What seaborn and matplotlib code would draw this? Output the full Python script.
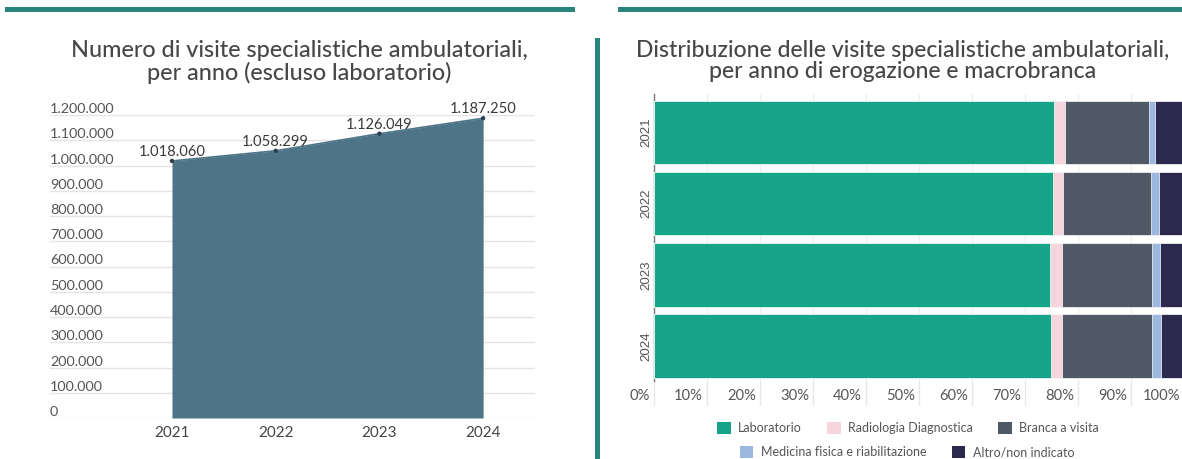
import matplotlib
matplotlib.use("Agg")
import matplotlib.pyplot as plt
from matplotlib.patches import Patch, Rectangle
from matplotlib.ticker import FixedLocator
from matplotlib.transforms import ScaledTranslation
import numpy as np
import pandas as pd
import seaborn as sns

# --- data -------------------------------------------------------------
anni = ["2021", "2022", "2023", "2024"]
visite = [1018060, 1058299, 1126049, 1187250]
y_ticks = [0, 100000, 200000, 300000, 400000, 500000, 600000,
           700000, 800000, 900000, 1000000, 1100000, 1200000]

macrobranche = ["Laboratorio", "Radiologia Diagnostica", "Branca a visita",
                "Medicina fisica e riabilitazione", "Altro/non indicato"]
laboratorio = [75.5, 75.2, 74.7, 74.9]
radiologia = [2.1, 2.0, 2.2, 2.0]
branca_visita = [15.8, 16.5, 17.0, 17.1]
medicina_fisica = [1.1, 1.6, 1.6, 1.6]
altro = [5.5, 4.7, 4.5, 4.4]
x_ticks_pct = [0, 10, 20, 30, 40, 50, 60, 70, 80, 90, 100]

colori = ["#17a589", "#f7d5dd", "#4f5a66", "#9cb8df", "#2b2a4d"]
area_col = "#4e7488"
teal = "#2a847c"

sns.set_theme(style="white")
plt.rcParams["font.family"] = ["Lato", "DejaVu Sans"]

W, H = 1182, 459
fig = plt.figure(figsize=(W / 100, H / 100), dpi=100)
fig.patch.set_facecolor("white")


def box(l, t, r, b):
    return [l / W, 1 - b / H, (r - l) / W, (b - t) / H]


def it(n):
    return f"{n:,.0f}".replace(",", ".")


# --- decorative frame lines --------------------------------------------
fig.add_artist(Rectangle((5 / W, 1 - 12 / H), 570 / W, 5 / H,
                         transform=fig.transFigure, color=teal, lw=0))
fig.add_artist(Rectangle((618 / W, 1 - 12 / H), 570 / W, 5 / H,
                         transform=fig.transFigure, color=teal, lw=0))
fig.add_artist(Rectangle((595 / W, 0), 5 / W, 1 - 38 / H,
                         transform=fig.transFigure, color=teal, lw=0))

# --- left: area chart ---------------------------------------------------
ax1 = fig.add_axes(box(50, 115, 535, 418))
xpos = np.arange(len(anni))
ax1.fill_between(xpos, 0, visite, color=area_col, lw=0, zorder=2)
sns.lineplot(x=xpos, y=visite, ax=ax1, color=area_col, lw=1.2, zorder=3)
sns.scatterplot(x=xpos, y=visite, ax=ax1, color="#2d3f4c", s=10,
                edgecolor="none", zorder=4)
for x, v in zip(xpos, visite):
    ax1.annotate(it(v), (x, v), xytext=(0, 1.5), textcoords="offset points",
                 ha="center", va="bottom", fontsize=10.6, color="#3a3a3a",
                 zorder=5)
ax1.set_xlim(-1.176, 3.5)
ax1.set_ylim(0, 1200000)
ax1.yaxis.set_major_locator(FixedLocator(y_ticks))
ax1.set_yticklabels([it(v) for v in y_ticks])
ax1.set_xticks(xpos)
ax1.set_xticklabels(anni)
ax1.grid(axis="y", color="#e4e4e4", lw=1, zorder=0)
ax1.grid(axis="x", visible=False)
for s in ax1.spines.values():
    s.set_visible(False)
ax1.tick_params(axis="y", length=0, pad=0, labelsize=10.4, labelcolor="#555555")
ax1.tick_params(axis="x", length=0, pad=6, labelsize=11, labelcolor="#444444")
plt.setp(ax1.get_yticklabels(), ha="left", va="bottom")
ax1.set_xlabel("")
ax1.set_ylabel("")
ax1.set_axisbelow(True)

fig.text(299 / W, 1 - 62 / H,
         "Numero di visite specialistiche ambulatoriali,\nper anno (escluso laboratorio)",
         ha="center", va="center", fontsize=16.8, fontweight="medium",
         color="#474747", linespacing=1.0)

# --- right: stacked 100% bars ------------------------------------------
ax2 = fig.add_axes(box(654, 94, 1184, 381))
serie = [laboratorio, radiologia, branca_visita, medicina_fisica, altro]
cumul = np.cumsum(np.array(serie), axis=0)
df = pd.DataFrame({"anno": anni})
for nome, c in zip(macrobranche, cumul):
    df[nome] = c
for nome, col in reversed(list(zip(macrobranche, colori))):
    sns.barplot(data=df, y="anno", x=nome, orient="h", color=col,
                width=0.89, ax=ax2, edgecolor="white", linewidth=0.5,
                saturation=1, zorder=3)
ax2.set_xlim(0, 100)
ax2.set_ylim(3.49, -0.54)
ax2.set_xticks(x_ticks_pct)
ax2.set_xticklabels([f"{v}%" for v in x_ticks_pct])
ax2.grid(axis="x", color="#ececec", lw=1, zorder=0)
ax2.grid(axis="y", visible=False)
for k, s in ax2.spines.items():
    s.set_visible(k == "left")
ax2.spines["left"].set_color("#777777")
ax2.spines["left"].set_linewidth(1)
ax2.tick_params(axis="x", bottom=True, direction="out", length=17.3,
                width=1, color="#e6e6e6", pad=-11.3, labelsize=10.6,
                labelcolor="#555555")
ticks = ax2.xaxis.get_major_ticks()
ticks[0].tick1line.set_color("#777777")
off = ScaledTranslation(-4 / 100, 0, fig.dpi_scale_trans)
for lab in ax2.get_xticklabels():
    lab.set_ha("right")
    lab.set_transform(lab.get_transform() + off)
ax2.tick_params(axis="y", length=0, pad=1.5, labelsize=9.6, labelcolor="#555555")
for lab in ax2.get_yticklabels():
    lab.set_rotation(90)
    lab.set_va("center")
    lab.set_family(["Liberation Sans", "DejaVu Sans"])
ax2.set_xlabel("")
ax2.set_ylabel("")

fig.text(903 / W, 1 - 61 / H,
         "Distribuzione delle visite specialistiche ambulatoriali,\nper anno di erogazione e macrobranca",
         ha="center", va="center", fontsize=16.6, fontweight="medium",
         color="#474747", linespacing=0.98)

# --- legend in two centred rows ----------------------------------------
handles = [Patch(facecolor=c, edgecolor="none", label=n)
           for n, c in zip(macrobranche, colori)]
leg_kw = dict(frameon=False, fontsize=9, handlelength=1.1,
              handleheight=1.1, handletextpad=0.6, columnspacing=2.0,
              labelcolor="#555555", borderaxespad=0, borderpad=0)
leg1 = fig.legend(handles=handles[:3], ncol=3, loc="center",
                  bbox_to_anchor=(908 / W, 1 - 428 / H), **leg_kw)
leg2 = fig.legend(handles=handles[3:], ncol=2, loc="center",
                  bbox_to_anchor=(907 / W, 1 - 452 / H), **leg_kw)

fig.savefig("out.png", dpi=100, facecolor="white")
